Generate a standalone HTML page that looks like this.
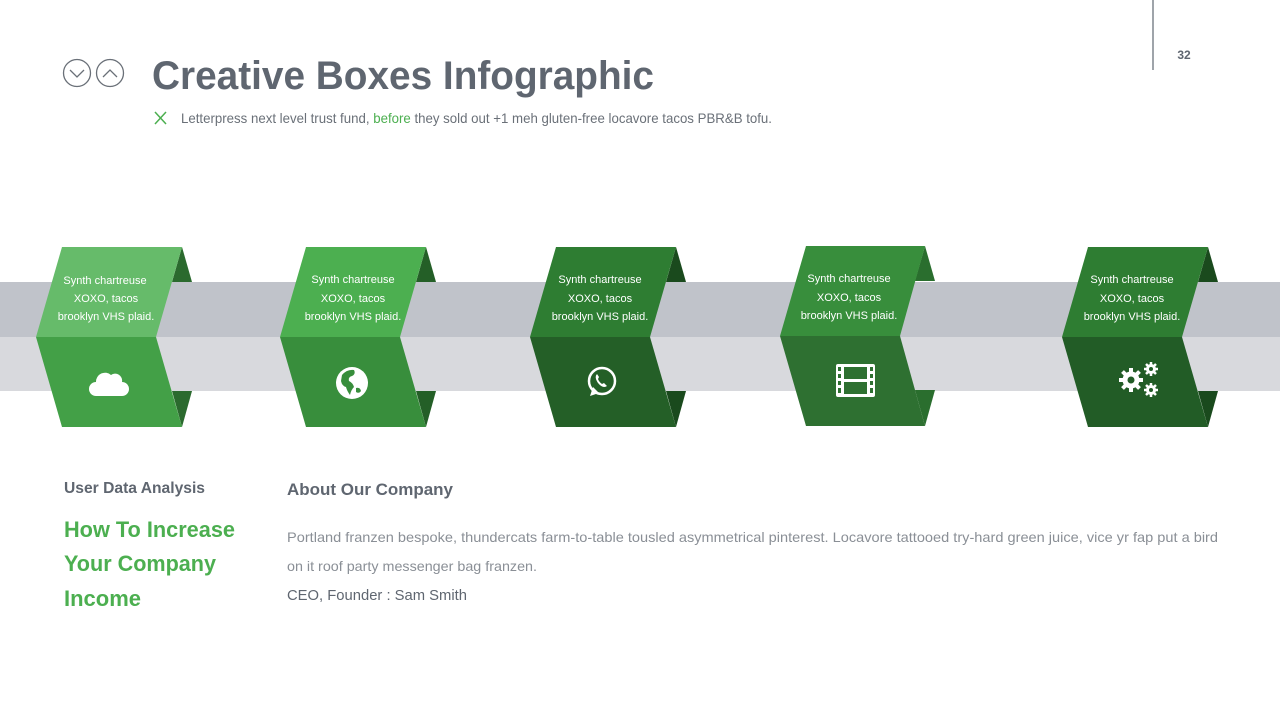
<!DOCTYPE html>
<html><head><meta charset="utf-8"><style>
html,body{margin:0;padding:0;background:#fff;width:1280px;height:720px;overflow:hidden}
svg{display:block;font-family:"Liberation Sans",sans-serif}
</style></head><body>
<svg width="1280" height="720" viewBox="0 0 1280 720" xmlns="http://www.w3.org/2000/svg">
<rect width="1280" height="720" fill="#fff"/>
<!-- header -->
<line x1="1153" y1="0" x2="1153" y2="70" stroke="#5f6670" stroke-width="1.2"/>
<text x="1184" y="59" font-size="12" fill="#5f6670" text-anchor="middle" font-weight="bold">32</text>
<circle cx="77" cy="73" r="13.5" fill="none" stroke="#6a7078" stroke-width="1.3"/>
<polyline points="70,70 77,77 84,70" fill="none" stroke="#6a7078" stroke-width="1.3"/>
<circle cx="110" cy="73" r="13.5" fill="none" stroke="#6a7078" stroke-width="1.3"/>
<polyline points="103,77 110,70 117,77" fill="none" stroke="#6a7078" stroke-width="1.3"/>
<text x="152" y="89" font-size="40" font-weight="bold" fill="#5f6670" textLength="502" lengthAdjust="spacingAndGlyphs">Creative Boxes Infographic</text>
<path d="M155 112 L166 124 M166 112 L155 124" stroke="#4caf50" stroke-width="1.5"/>
<text x="181" y="123" font-size="14" fill="#6a7078" textLength="591" lengthAdjust="spacingAndGlyphs">Letterpress next level trust fund, <tspan fill="#4caf50">before</tspan> they sold out +1 meh gluten-free locavore tacos PBR&amp;B tofu.</text>
<!-- bands -->
<rect x="0" y="282" width="1280" height="55" fill="#c0c3ca"/>
<rect x="0" y="337" width="1280" height="54" fill="#d8d9dd"/>
<!-- boxes -->
<g id="boxes">
</g>
<!-- box 1 -->
<g>
<polygon points="182,247 192,282 172,282" fill="#2b6a2e"/>
<polygon points="172,391 192,391 182,427" fill="#2b6a2e"/>
<polygon points="62,247 182,247 156,337 36,337" fill="#66bb6a"/>
<polygon points="36,337 156,337 182,427 62,427" fill="#43a047"/>
</g>
<g>
<polygon points="426,247 436,282 416,282" fill="#245f27"/>
<polygon points="416,391 436,391 426,427" fill="#245f27"/>
<polygon points="306,247 426,247 400,337 280,337" fill="#4caf50"/>
<polygon points="280,337 400,337 426,427 306,427" fill="#388e3c"/>
</g>
<g>
<polygon points="676,247 686,282 666,282" fill="#1a4a1d"/>
<polygon points="666,391 686,391 676,427" fill="#1a4a1d"/>
<polygon points="556,247 676,247 650,337 530,337" fill="#2e7d32"/>
<polygon points="530,337 650,337 676,427 556,427" fill="#245f27"/>
</g>
<g>
<polygon points="925,246 935,281 915,281" fill="#2a6e2e"/>
<polygon points="915,390 935,390 925,426" fill="#2a6e2e"/>
<polygon points="806,246 925,246 900,336 780,336" fill="#388e3c"/>
<polygon points="780,336 900,336 925,426 806,426" fill="#2e7031"/>
</g>
<g>
<polygon points="1208,247 1218,282 1198,282" fill="#1a4a1d"/>
<polygon points="1198,391 1218,391 1208,427" fill="#1a4a1d"/>
<polygon points="1088,247 1208,247 1182,337 1062,337" fill="#2e7d32"/>
<polygon points="1062,337 1182,337 1208,427 1088,427" fill="#225c26"/>
</g>
<!-- box texts -->
<g font-size="11" fill="#fff" text-anchor="middle">
<text x="105" y="284">Synth chartreuse</text><text x="106" y="302">XOXO, tacos</text><text x="106" y="320">brooklyn VHS plaid.</text>
<text x="353" y="283">Synth chartreuse</text><text x="353" y="302">XOXO, tacos</text><text x="353" y="320">brooklyn VHS plaid.</text>
<text x="600" y="283">Synth chartreuse</text><text x="600" y="302">XOXO, tacos</text><text x="600" y="320">brooklyn VHS plaid.</text>
<text x="849" y="282">Synth chartreuse</text><text x="849" y="301">XOXO, tacos</text><text x="849" y="319">brooklyn VHS plaid.</text>
<text x="1132" y="283">Synth chartreuse</text><text x="1132" y="302">XOXO, tacos</text><text x="1132" y="320">brooklyn VHS plaid.</text>
</g>
<!-- icons -->
<g fill="#fff">
<!-- cloud -->
<path d="M96 396 a7 7 0 0 1 0-14 a9 9 0 0 1 15-7 a7 7 0 0 1 11 7 a7 7 0 0 1 0 14 z"/>
<!-- globe -->
<circle cx="352" cy="383" r="16"/>
<path d="M342 375 q5-6 12-5 q2 4-2 6 q-4 1-3 5 q4 2 5 6 q-3 3-4 8 q-3-4-4-8 q-4-1-5-6z M356 388 q4-1 5 3 q-2 3-5 1z" fill="#388e3c"/>
<!-- whatsapp -->
<circle cx="602" cy="381" r="13" fill="none" stroke="#fff" stroke-width="2.5"/>
<path d="M590 396 l3-9 l6 6z"/>
<path d="M597 374 q-3 3 1 9 q5 6 9 3 l-3-3 l-2 1 q-3-2-4-5 l1-2z"/>
<!-- film -->
<rect x="836" y="364" width="39" height="33" rx="2"/>
<g fill="#2e7031">
<rect x="844" y="367" width="23" height="12"/><rect x="844" y="382" width="23" height="12"/>
<rect x="838" y="367" width="3" height="4"/><rect x="838" y="374" width="3" height="4"/><rect x="838" y="381" width="3" height="4"/><rect x="838" y="388" width="3" height="5"/>
<rect x="870" y="367" width="3" height="4"/><rect x="870" y="374" width="3" height="4"/><rect x="870" y="381" width="3" height="4"/><rect x="870" y="388" width="3" height="5"/>
</g>
<!-- gears -->
<circle cx="1131" cy="380" r="8.5"/>
<g stroke="#fff" stroke-width="4">
<line x1="1131" y1="368" x2="1131" y2="392"/><line x1="1119" y1="380" x2="1143" y2="380"/>
<line x1="1122.5" y1="371.5" x2="1139.5" y2="388.5"/><line x1="1139.5" y1="371.5" x2="1122.5" y2="388.5"/>
</g>
<circle cx="1131" cy="380" r="3.5" fill="#225c26"/>
<circle cx="1151" cy="369" r="5"/>
<g stroke="#fff" stroke-width="2.5"><line x1="1151" y1="362" x2="1151" y2="376"/><line x1="1144" y1="369" x2="1158" y2="369"/><line x1="1146" y1="364" x2="1156" y2="374"/><line x1="1156" y1="364" x2="1146" y2="374"/></g>
<circle cx="1151" cy="369" r="2" fill="#225c26"/>
<circle cx="1151" cy="390" r="5"/>
<g stroke="#fff" stroke-width="2.5"><line x1="1151" y1="383" x2="1151" y2="397"/><line x1="1144" y1="390" x2="1158" y2="390"/><line x1="1146" y1="385" x2="1156" y2="395"/><line x1="1156" y1="385" x2="1146" y2="395"/></g>
<circle cx="1151" cy="390" r="2" fill="#225c26"/>
</g>
<!-- bottom text -->
<text x="64" y="493" font-size="16" font-weight="bold" fill="#5f6670" textLength="141" lengthAdjust="spacingAndGlyphs">User Data Analysis</text>
<g font-size="22" font-weight="bold" fill="#4caf50">
<text x="64" y="537" textLength="171" lengthAdjust="spacingAndGlyphs">How To Increase</text>
<text x="64" y="571" textLength="152" lengthAdjust="spacingAndGlyphs">Your Company</text>
<text x="64" y="606" textLength="77" lengthAdjust="spacingAndGlyphs">Income</text>
</g>
<text x="287" y="495" font-size="17" font-weight="bold" fill="#5f6670" textLength="166" lengthAdjust="spacingAndGlyphs">About Our Company</text>
<text x="287" y="542" font-size="14" fill="#8a8f96" textLength="931" lengthAdjust="spacingAndGlyphs">Portland franzen bespoke, thundercats farm-to-table tousled asymmetrical pinterest. Locavore tattooed try-hard green juice, vice yr fap put a bird</text>
<text x="287" y="571" font-size="14" fill="#8a8f96" textLength="250" lengthAdjust="spacingAndGlyphs">on it roof party messenger bag franzen.</text>
<text x="287" y="600" font-size="15" fill="#5f6670" textLength="180" lengthAdjust="spacingAndGlyphs">CEO, Founder : Sam Smith</text>
</svg>
</body></html>
